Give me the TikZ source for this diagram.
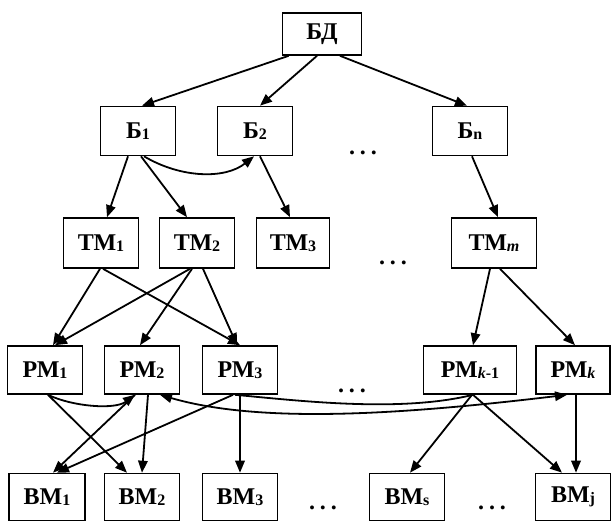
\documentclass[tikz,border=0pt]{standalone}
\usepackage{fontspec}
\setmainfont{Liberation Serif}
\usetikzlibrary{arrows.meta}
\newcommand{\ix}[1]{\raisebox{-1pt}{\fontsize{16}{16}\selectfont #1}}
\newcommand{\dts}{.\hspace{5pt}.\hspace{5pt}.}

\begin{document}
\begin{tikzpicture}[x=1pt, y=-1pt, line width=1.8pt, every node/.style={font=\bfseries\fontsize{24}{26}\selectfont}, >={Triangle[length=12pt,width=9.5pt]}, bx/.style={draw, line width=1.6pt, minimum width=75pt, minimum height=49pt, inner sep=0pt}]
	\useasboundingbox (0,0) rectangle (612,522);
	% levels
	\node[bx, minimum width=79pt, minimum height=42pt] (bd) at (322,34) {БД};
	\node[bx] (b1) at (138,131) {Б\ix{1}};
	\node[bx] (b2) at (255,131) {Б\ix{2}};
	\node[bx] (bn) at (470,131) {Б\ix{n}};
	\node[bx, minimum height=50pt] (tm1) at (101,243) {ТМ\ix{1}};
	\node[bx, minimum height=50pt] (tm2) at (197,243) {ТМ\ix{2}};
	\node[bx, minimum height=50pt, minimum width=73pt] (tm3) at (293,243) {ТМ\ix{3}};
	\node[bx, minimum height=50pt, minimum width=85pt] (tmm) at (494,243) {ТМ\ix{\textit{m}}};
	\node[bx, minimum height=48pt] (rm1) at (45,370) {РМ\ix{1}};
	\node[bx, minimum height=48pt] (rm2) at (142,370) {РМ\ix{2}};
	\node[bx, minimum height=48pt] (rm3) at (240,370) {РМ\ix{3}};
	\node[bx, minimum height=48pt, minimum width=93pt] (rmk1) at (470,370) {РМ\ix{\textit{k}-1}};
	\node[bx, minimum height=48pt, minimum width=74pt] (rmk) at (573,370) {РМ\ix{\textit{k}}};
	\node[bx, minimum height=47pt, minimum width=76pt] (vm1) at (47,497) {ВМ\ix{1}};
	\node[bx, minimum height=47pt] (vm2) at (142,497) {ВМ\ix{2}};
	\node[bx, minimum height=47pt] (vm3) at (240,497) {ВМ\ix{3}};
	\node[bx, minimum height=47pt] (vms) at (407,497) {ВМ\ix{s}};
	\node[bx, minimum height=47pt] (vmj) at (573,497) {ВМ\ix{j}};
	\node (d1) at (363,153) {\dts};
	\node (d2) at (393,263) {\dts};
	\node (d3) at (352,391) {\dts};
	\node (d4) at (323,508) {\dts};
	\node (d5) at (492,508) {\dts};
	% links
	\draw[->] ([xshift=7pt]bd.south west) -- ([xshift=4pt]b1.north);
	\draw[->] ([xshift=-5pt]bd.south) -- ([xshift=5pt]b2.north);
	\draw[->] ([xshift=18pt]bd.south) -- ([xshift=-3pt]bn.north);
	\draw[->] ([xshift=-10pt]b1.south) -- ([xshift=6pt]tm1.north);
	\draw[->] ([xshift=3pt]b1.south) -- ([xshift=-10pt]tm2.north);
	\draw[->] ([xshift=6pt]b1.south) .. controls +(37,22) and +(-29,23) .. ([xshift=-1pt]b2.south);
	\draw[->] ([xshift=5pt]b2.south) -- ([xshift=-3pt]tm3.north);
	\draw[->] ([xshift=2pt]bn.south) -- ([xshift=4pt]tmm.north);
	\draw[->] ([xshift=-1pt]tm1.south) -- ([xshift=8pt]rm1.north);
	\draw[->] ([xshift=2pt]tm1.south) -- (rm3.north);
	\draw[->] ([xshift=-7pt]tm2.south) -- ([xshift=10pt]rm1.north);
	\draw[->] ([xshift=-5pt]tm2.south) -- ([xshift=-2pt]rm2.north);
	\draw[->] ([xshift=6pt]tm2.south) -- ([xshift=-3pt]rm3.north);
	\draw[->] ([xshift=-4pt]tmm.south) -- ([xshift=3pt]rmk1.north);
	\draw[->] ([xshift=6pt]tmm.south) -- ([xshift=2pt]rmk.north);
	\draw[->] ([xshift=3pt]rm1.south) .. controls +(25,12) and +(-20,15) .. ([xshift=-7pt]rm2.south);
	\draw[->] ([xshift=3pt]rm1.south) -- ([xshift=-15pt]vm2.north);
	\draw[->] ([xshift=-7pt]rm2.south) -- ([xshift=6pt]vm1.north);
	\draw[->] ([xshift=-7pt]rm3.south) -- ([xshift=10pt]vm1.north);
	\draw[->] ([xshift=6pt]rm2.south) -- (vm2.north);
	\draw[<->] ([xshift=18pt]rm2.south) .. controls +(100,29) and +(-167,20) .. ([xshift=-6pt]rmk.south);
	\draw ([xshift=-5pt]rm3.south) .. controls +(65,6) and +(-73,18) .. ([xshift=3pt]rmk1.south);
	\draw[->] (rm3.south) -- (vm3.north);
	\draw[->] ([xshift=2pt]rmk1.south) -- ([xshift=3pt]vms.north);
	\draw[->] ([xshift=3pt]rmk1.south) -- ([xshift=-11pt]vmj.north);
	\draw[->] ([xshift=3pt]rmk.south) -- ([xshift=3pt]vmj.north);
\end{tikzpicture}
\end{document}
